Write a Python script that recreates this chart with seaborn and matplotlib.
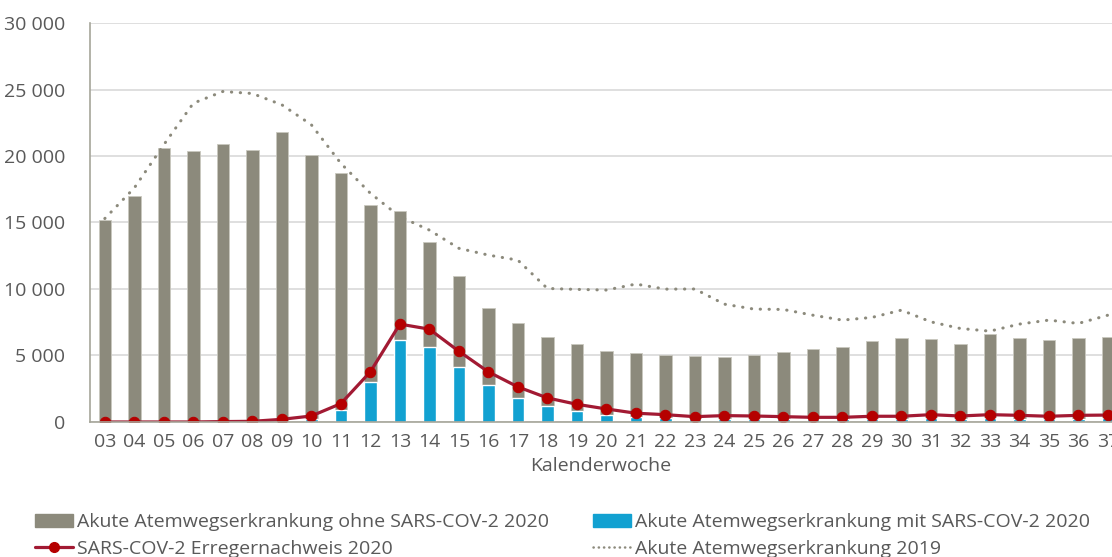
import numpy as np
import pandas as pd
import seaborn as sns
import matplotlib.pyplot as plt
from matplotlib.ticker import FuncFormatter
from matplotlib.lines import Line2D
from matplotlib.patches import Patch

weeks = ["03", "04", "05", "06", "07", "08", "09", "10", "11", "12", "13", "14",
         "15", "16", "17", "18", "19", "20", "21", "22", "23", "24", "25", "26",
         "27", "28", "29", "30", "31", "32", "33", "34", "35", "36", "37"]

# total acute respiratory illness 2020 (bar height)
total_2020 = [15200, 17000, 20600, 20350, 20900, 20450, 21800, 20100, 18700, 16300,
              15850, 13500, 11000, 8560, 7460, 6400, 5900, 5320, 5200, 5000,
              4950, 4870, 5070, 5270, 5470, 5650, 6100, 6350, 6230, 5830,
              6600, 6350, 6150, 6330, 6400]

# part with SARS-CoV-2
covid_2020 = [0, 0, 0, 0, 0, 0, 30, 250, 930, 2970,
              6130, 5650, 4170, 2760, 1840, 1230, 830, 530, 380, 330,
              250, 220, 220, 220, 250, 250, 250, 250, 280, 250,
              280, 250, 250, 250, 280]

# SARS-CoV-2 detections
detect_2020 = [0, 0, 0, 0, 30, 50, 200, 450, 1380, 3770,
               7360, 6980, 5320, 3770, 2640, 1810, 1330, 980, 660, 550,
               400, 480, 450, 400, 350, 350, 430, 430, 550, 450,
               550, 500, 430, 500, 520]

# acute respiratory illness 2019
total_2019 = [15300, 17600, 20850, 23970, 24850, 24700, 23850, 22350, 19450, 17200,
              15440, 14430, 13060, 12550, 12170, 10040, 9970, 9920, 10370, 9990,
              10000, 8860, 8490, 8460, 8030, 7660, 7860, 8410, 7530, 7030,
              6830, 7360, 7660, 7410, 8030]

df = pd.DataFrame({
    "week": weeks,
    "pos": np.arange(len(weeks)),
    "total": total_2020,
    "covid": covid_2020,
    "detect": detect_2020,
    "y2019": total_2019,
})

GREY = "#8C8A7C"
BLUE = "#12A1D1"
LINE_RED = "#A21A33"
DOT_RED = "#B50000"
TEXT = "#595959"
FS = 14

sns.set_style("white")
plt.rcParams["font.family"] = ["Open Sans", "DejaVu Sans"]

fig = plt.figure(figsize=(11.12, 5.57), dpi=100)
ax = fig.add_axes([0.081, 0.2424, 0.919, 0.7163])

sns.barplot(data=df, x="week", y="total", color=GREY, width=0.42,
            saturation=1, ax=ax, zorder=2, edgecolor="#C9C8BF", linewidth=0.6)
sns.barplot(data=df, x="week", y="covid", color=BLUE, width=0.42,
            saturation=1, ax=ax, zorder=3)

sns.lineplot(data=df, x="pos", y="y2019", color=GREY, lw=2.2,
             linestyle=(0, (0.1, 2.8)), dash_capstyle="round", ax=ax, zorder=4)
sns.lineplot(data=df, x="pos", y="detect", color=LINE_RED, lw=2.3,
             marker="o", markersize=7.5, markerfacecolor=DOT_RED,
             markeredgecolor=DOT_RED, ax=ax, zorder=5)

ax.set_ylim(0, 30000)
ax.set_yticks(np.arange(0, 30001, 5000))
ax.yaxis.set_major_formatter(FuncFormatter(lambda v, p: f"{int(v):,}".replace(",", " ")))
ax.set_xlim(-0.5, 34.14)
ax.set_xticks(df["pos"])
ax.set_xticklabels(weeks)

ax.grid(axis="y", color="#D9D9D9", lw=1.2, zorder=0)
ax.set_axisbelow(True)
for s in ["top", "right"]:
    ax.spines[s].set_visible(False)
for s in ["left", "bottom"]:
    ax.spines[s].set_color("#A6A69A")
    ax.spines[s].set_linewidth(1.2)
    ax.spines[s].set_zorder(6)

ax.tick_params(axis="both", length=0, labelsize=FS, labelcolor=TEXT)
ax.tick_params(axis="y", pad=18)
ax.tick_params(axis="x", pad=8)
ax.set_ylabel("")
ax.set_xlabel("Kalenderwoche", fontsize=FS, color=TEXT, labelpad=4)

leg_kw = dict(frameon=False, fontsize=FS, labelcolor=TEXT, handlelength=1.95,
              handleheight=0.65, handletextpad=0.2, labelspacing=0.45,
              borderaxespad=0, borderpad=0)
h1 = [Patch(color=GREY), Line2D([], [], color=LINE_RED, lw=2.3, marker="o",
                                 markersize=7, markerfacecolor=DOT_RED,
                                 markeredgecolor=DOT_RED)]
l1 = ["Akute Atemwegserkrankung ohne SARS-COV-2 2020", "SARS-COV-2 Erregernachweis 2020"]
h2 = [Patch(color=BLUE), Line2D([], [], color=GREY, lw=1.8, dash_capstyle="round",
                                linestyle=(0, (0.1, 2.0)))]
l2 = ["Akute Atemwegserkrankung mit SARS-COV-2 2020", "Akute Atemwegserkrankung 2019"]
fig.legend(h1, l1, loc="lower left", bbox_to_anchor=(35 / 1112, -1 / 557), **leg_kw)
fig.legend(h2, l2, loc="lower left", bbox_to_anchor=(593 / 1112, -1 / 557), **leg_kw)

fig.savefig("out.png", dpi=100)
